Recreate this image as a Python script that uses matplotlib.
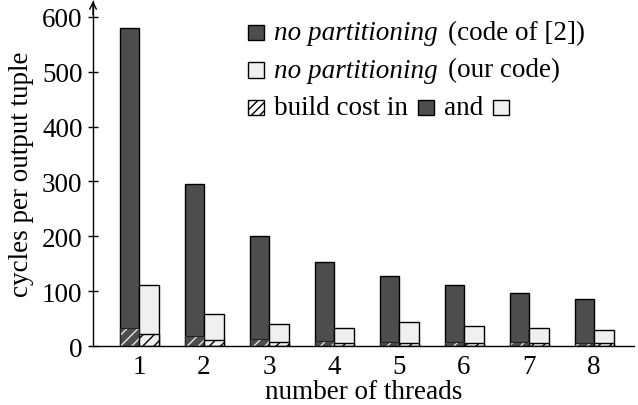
import matplotlib
matplotlib.use("Agg")
import matplotlib.pyplot as plt
import numpy as np
from matplotlib.patches import Rectangle
from matplotlib.offsetbox import (AnchoredOffsetbox, DrawingArea, HPacker,
                                  TextArea, VPacker)

plt.rcParams['font.family'] = ['Liberation Serif', 'DejaVu Serif']
plt.rcParams['font.size'] = 19.5
plt.rcParams['hatch.linewidth'] = 1.0

threads = [1, 2, 3, 4, 5, 6, 7, 8]
theirs = [580, 296, 200, 153, 128, 111, 97, 86]
ours = [112, 59, 41, 33, 44, 37, 33, 30]
theirs_build = [33, 18, 13, 10, 8, 8, 7, 6]
ours_build = [21, 11, 8, 6, 6, 5, 5, 5]

DARK = '#4d4d4d'
LIGHT = '#f0f0f0'

fig = plt.figure(figsize=(6.38, 4.06), dpi=100)
ax = fig.add_axes([0.1458, 0.1453, 0.848, 0.8498])

x = np.array(threads)
w = 0.3

# total cost bars
ax.bar(x - w / 2, theirs, w, color=DARK, edgecolor='black', linewidth=1)
ax.bar(x + w / 2, ours, w, color=LIGHT, edgecolor='black', linewidth=1)
# build cost (hatched)
ax.bar(x - w / 2, theirs_build, w, color=DARK, edgecolor='#e6e6e6',
       linewidth=0, hatch='///')
ax.bar(x - w / 2, theirs_build, w, fill=False, edgecolor='#222222', linewidth=0.8)
ax.bar(x + w / 2, ours_build, w, color=LIGHT, edgecolor='black',
       linewidth=1, hatch='///')

ax.set_xlim(0.292, 8.615)
ax.set_ylim(0, 629)
ax.set_xticks(threads)
ax.set_yticks(range(0, 601, 100))
ax.tick_params(axis='x', length=0, pad=6)
ax.tick_params(axis='y', direction='inout', length=7, width=1, pad=4)
ax.spines['top'].set_visible(False)
ax.spines['right'].set_visible(False)
ax.spines['left'].set_linewidth(1)
ax.spines['bottom'].set_linewidth(1)
ax.annotate('', xy=(0, 1.0), xytext=(0, 0.96), xycoords='axes fraction',
            arrowprops=dict(arrowstyle='->', lw=1, color='black',
                            mutation_scale=12, shrinkA=0, shrinkB=0))

ax.set_xlabel('number of threads', labelpad=0)
ax.set_ylabel('cycles per output tuple', labelpad=6)


# legend built from offset boxes so squares can sit inside the text
def square(face, hatch=None):
    da = DrawingArea(12, 11, 0, 0)
    r = Rectangle((0, 0), 11.5, 11, facecolor=face, edgecolor='black',
                  linewidth=1, hatch=hatch)
    da.add_artist(r)
    return da


def txt(s, style='normal'):
    return TextArea(s, textprops=dict(fontsize=19.5, fontstyle=style))


row1 = HPacker(children=[square(DARK), txt('no partitioning', 'italic'),
                         txt('(code of [2])')], align='center', pad=0, sep=7)
row2 = HPacker(children=[square(LIGHT), txt('no partitioning', 'italic'),
                         txt('(our code)')], align='center', pad=0, sep=7)
row3 = HPacker(children=[square('white', '////'), txt('build cost in'),
                         square(DARK), txt('and'), square(LIGHT)],
               align='center', pad=0, sep=7)
box = VPacker(children=[row1, row2, row3], align='left', pad=0, sep=9)
anchored = AnchoredOffsetbox(loc='upper left', child=box, frameon=False,
                             bbox_to_anchor=(248 / 638, 1 - 21 / 406),
                             bbox_transform=fig.transFigure, borderpad=0, pad=0)
ax.add_artist(anchored)

fig.savefig('out.png', dpi=100)
